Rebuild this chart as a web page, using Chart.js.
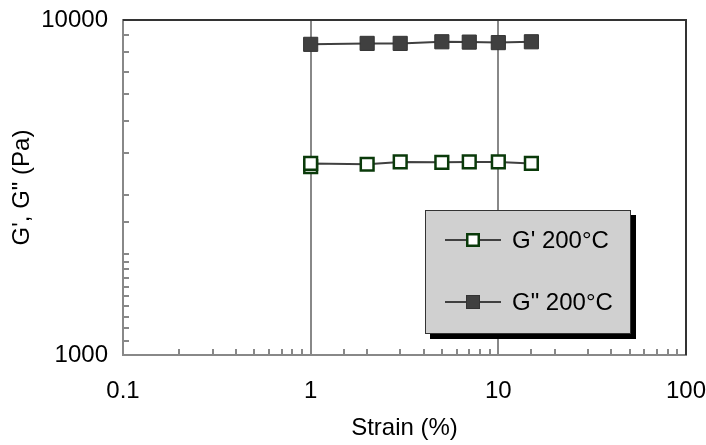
<!DOCTYPE html>
<html>
<head>
<meta charset="utf-8">
<title>Strain sweep G' G"</title>
<script src="https://cdn.jsdelivr.net/npm/chart.js@4.4.1/dist/chart.umd.min.js"></script>
<style>
  body { margin: 0; background: #fff; }
  canvas { display: block; }
</style>
</head>
<body>
<canvas id="strain-chart" width="706" height="445"></canvas>
<script>
// G' has two readings at 1 % strain
const strainGp = [1, 1, 2, 3, 5, 7, 10, 15];
const gPrime = [3650, 3730, 3710, 3770, 3760, 3770, 3770, 3730];

const strainGpp = [1, 2, 3, 5, 7, 10, 15];
const gDoublePrime = [8460, 8515, 8515, 8610, 8590, 8560, 8610];

const seriesLabels = ["G' 200°C", 'G" 200°C'];
const xTickLabels = ['0.1', '1', '10', '100'];
const yTickLabels = ['1000', '10000'];
const xTitle = 'Strain (%)';
const yTitle = 'G\', G" (Pa)';

Chart.defaults.font.family = '"Liberation Sans", Arial, sans-serif';
Chart.defaults.font.size = 24;
Chart.defaults.color = '#000';

function isDecade(v) {
    const l = Math.log10(v);
    return Math.abs(l - Math.round(l)) < 1e-6;
}

// only label the decades
function decadeLabel(labels) {
    return function (value) {
        const hit = labels.find(l => Math.abs(Number(l) - value) < value * 1e-6);
        return hit || '';
    };
}

function toPoints(xs, ys) {
    return xs.map((x, i) => ({ x: x, y: ys[i] }));
}

// small inward ticks + dark top/right frame
const frameTicks = {
    id: 'frameTicks',
    beforeDatasetsDraw(chart) {
        const { ctx, chartArea: a, scales: { x, y } } = chart;
        ctx.save();
        ctx.strokeStyle = '#888';
        ctx.lineWidth = 2;
        ctx.beginPath();
        x.ticks.forEach(t => {
            if (isDecade(t.value)) return;
            const px = Math.round(x.getPixelForValue(t.value));
            ctx.moveTo(px, a.bottom);
            ctx.lineTo(px, a.bottom - 6);
        });
        y.ticks.forEach(t => {
            if (isDecade(t.value)) return;
            const py = Math.round(y.getPixelForValue(t.value));
            ctx.moveTo(a.left, py);
            ctx.lineTo(a.left + 6, py);
        });
        ctx.stroke();

        ctx.strokeStyle = '#333';
        ctx.beginPath();
        ctx.moveTo(a.left, a.top);
        ctx.lineTo(a.right, a.top);
        ctx.lineTo(a.right, a.bottom);
        ctx.stroke();
        ctx.restore();
    }
};

// grey legend box with drop shadow, inside the plot
const boxLegend = {
    id: 'boxLegend',
    afterDraw(chart) {
        const ctx = chart.ctx;
        const bx = 425, by = 210, bw = 206, bh = 124;
        const rows = [240, 302];
        ctx.save();
        ctx.fillStyle = '#000';
        ctx.fillRect(bx + 5, by + 5, bw, bh);
        ctx.fillStyle = '#d0d0d0';
        ctx.fillRect(bx, by, bw, bh);
        ctx.strokeStyle = '#333';
        ctx.lineWidth = 1;
        ctx.strokeRect(bx + 0.5, by + 0.5, bw - 1, bh - 1);

        chart.data.datasets.forEach((ds, i) => {
            const cy = rows[i];
            ctx.strokeStyle = ds.borderColor;
            ctx.lineWidth = 2;
            ctx.beginPath();
            ctx.moveTo(445, cy);
            ctx.lineTo(501, cy);
            ctx.stroke();

            const s = 14;
            ctx.fillStyle = ds.pointBackgroundColor;
            ctx.fillRect(473 - s / 2, cy - s / 2, s, s);
            ctx.strokeStyle = ds.pointBorderColor;
            ctx.lineWidth = ds.pointBorderWidth;
            const bwid = ds.pointBorderWidth;
            ctx.strokeRect(473 - s / 2 + bwid / 2, cy - s / 2 + bwid / 2, s - bwid, s - bwid);

            ctx.fillStyle = '#000';
            ctx.font = '24px "Liberation Sans", Arial, sans-serif';
            ctx.textBaseline = 'middle';
            ctx.textAlign = 'left';
            ctx.fillText(ds.label, 512, cy + 1);
        });
        ctx.restore();
    }
};

const ctx = document.getElementById('strain-chart').getContext('2d');
let chart = new Chart(ctx, {
    type: 'line',
    data: {
        datasets: [
            {
                label: seriesLabels[0],
                data: toPoints(strainGp, gPrime),
                borderColor: '#404040',
                borderWidth: 2,
                pointStyle: 'rect',
                pointRadius: 9,
                pointBackgroundColor: '#ffffff',
                pointBorderColor: '#0a3a0a',
                pointBorderWidth: 2.5,
                tension: 0
            },
            {
                label: seriesLabels[1],
                data: toPoints(strainGpp, gDoublePrime),
                borderColor: '#404040',
                borderWidth: 2,
                pointStyle: 'rect',
                pointRadius: 10,
                pointBackgroundColor: '#404040',
                pointBorderColor: '#333333',
                pointBorderWidth: 1,
                tension: 0
            }
        ]
    },
    options: {
        responsive: false,
        animation: false,
        events: [],
        layout: { padding: { top: 20, right: 20, bottom: 0, left: 0 } },
        plugins: {
            legend: { display: false },
            tooltip: { enabled: false }
        },
        scales: {
            x: {
                type: 'logarithmic',
                min: 0.1,
                max: 100,
                afterFit: scale => {
                    scale.height = 90;
                    scale.paddingLeft = 0;
                    scale.paddingRight = 0;
                },
                grid: {
                    color: c => (c.tick && isDecade(c.tick.value) && c.tick.value > 0.5 && c.tick.value < 50) ? '#888' : 'rgba(0,0,0,0)',
                    lineWidth: 2,
                    drawTicks: false
                },
                border: { color: '#888', width: 2 },
                ticks: {
                    autoSkip: false,
                    maxRotation: 0,
                    padding: 22,
                    callback: decadeLabel(xTickLabels)
                },
                title: {
                    display: true,
                    text: xTitle,
                    padding: { top: 0, bottom: 2 }
                }
            },
            y: {
                type: 'logarithmic',
                min: 1000,
                max: 10000,
                afterFit: scale => {
                    scale.width = 123;
                    scale.paddingTop = 0;
                    scale.paddingBottom = 0;
                },
                grid: {
                    color: 'rgba(0,0,0,0)',
                    drawTicks: false
                },
                border: { color: '#888', width: 2 },
                ticks: {
                    autoSkip: false,
                    padding: 15,
                    callback: decadeLabel(yTickLabels)
                },
                title: {
                    display: true,
                    text: yTitle,
                    padding: { top: 8, bottom: 0 }
                }
            }
        }
    },
    plugins: [frameTicks, boxLegend]
});
</script>
</body>
</html>
